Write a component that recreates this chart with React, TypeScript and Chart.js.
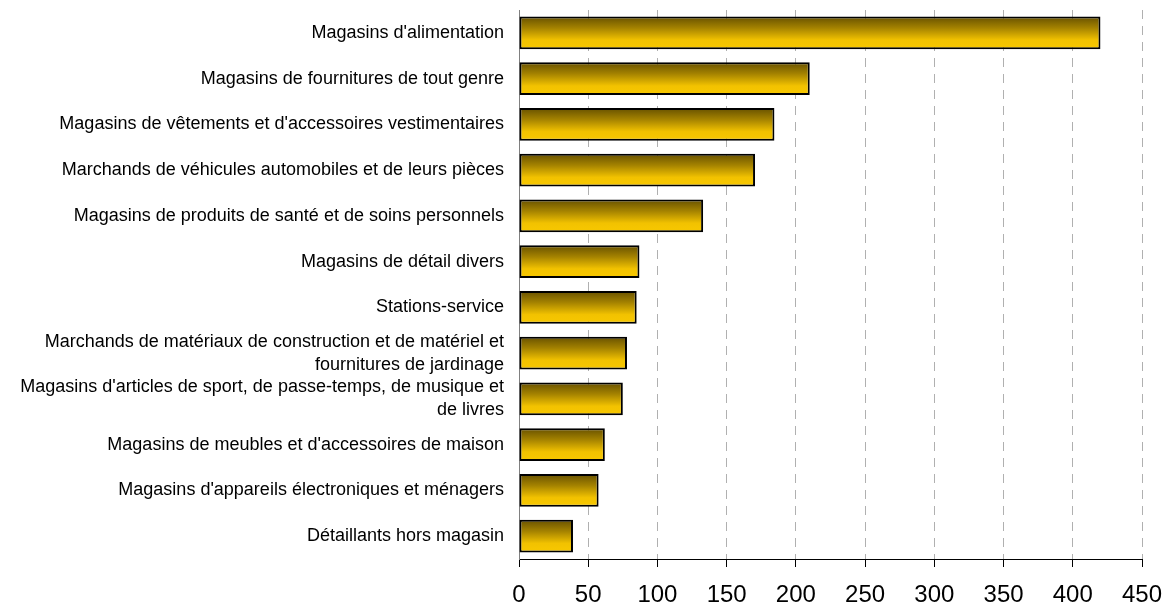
import React, { useEffect, useRef } from "react";
import { Chart, registerables } from "chart.js";

Chart.register(...registerables);

const categories: (string | string[])[] = [
  "Magasins d'alimentation",
  "Magasins de fournitures de tout genre",
  "Magasins de vêtements et d'accessoires vestimentaires",
  "Marchands de véhicules automobiles et de leurs pièces",
  "Magasins de produits de santé et de soins personnels",
  "Magasins de détail divers",
  "Stations-service",
  ["Marchands de matériaux de construction et de matériel et", "fournitures de jardinage"],
  ["Magasins d'articles de sport, de passe-temps, de musique et", "de livres"],
  "Magasins de meubles et d'accessoires de maison",
  "Magasins d'appareils électroniques et ménagers",
  "Détaillants hors magasin",
];

const values: number[] = [420, 210, 184.5, 170.5, 133, 87, 85, 78, 75, 62, 57.5, 39];

const xTicks = { min: 0, max: 450, step: 50 };

export default function App() {
  const canvasRef = useRef<HTMLCanvasElement | null>(null);

  useEffect(() => {
    if (!canvasRef.current) return;
    const chart = new Chart(canvasRef.current, {
      type: "bar",
      data: {
        labels: categories,
        datasets: [
          {
            data: values,
            backgroundColor: (ctx: any) => {
              const c = ctx.chart;
              const ys = c.scales?.y;
              if (!ys || ctx.dataIndex === undefined) return "#e0b000";
              const center = ys.getPixelForValue(ctx.dataIndex);
              const band = ys.height / categories.length;
              const h = band * 0.72;
              const y0 = center - h / 2;
              const y1 = center + h / 2;
              if (!isFinite(y0) || !isFinite(y1) || h <= 0) return "#e0b000";
              const g = c.ctx.createLinearGradient(0, y0, 0, y1);
              g.addColorStop(0, "#665000");
              g.addColorStop(0.35, "#a48200");
              g.addColorStop(0.72, "#f2c200");
              g.addColorStop(1, "#f8c800");
              return g;
            },
            borderColor: "#000000",
            borderWidth: 2,
            borderSkipped: false,
            barPercentage: 0.72,
            categoryPercentage: 1,
          },
        ],
      },
      options: {
        indexAxis: "y",
        animation: false,
        responsive: true,
        maintainAspectRatio: false,
        layout: { padding: { top: 10, left: 0, right: 0, bottom: 0 } },
        plugins: {
          legend: { display: false },
          tooltip: { enabled: false },
        },
        scales: {
          x: {
            min: xTicks.min,
            max: xTicks.max,
            afterFit: (scale: any) => {
              scale.height = 46;
              scale.paddingLeft = 0;
              scale.paddingRight = 22;
            },
            ticks: {
              stepSize: xTicks.step,
              color: "#000",
              font: { family: "'Liberation Sans', Arial, sans-serif", size: 24, lineHeight: 1 },
              padding: 16,
              maxRotation: 0,
            },
            grid: {
              color: "#b0b0b0",
              lineWidth: 1,
              tickColor: "#000",
              tickLength: 8,
              tickBorderDash: [],
            },
            border: { display: true, color: "#000", width: 1, dash: [9, 7] },
          },
          y: {
            afterFit: (scale: any) => {
              scale.width = 519;
              scale.paddingTop = 0;
              scale.paddingBottom = 0;
            },
            ticks: {
              color: "#000",
              font: { family: "'Liberation Sans', Arial, sans-serif", size: 18, lineHeight: 1.28 },
              padding: 15,
              autoSkip: false,
            },
            grid: { display: false, drawTicks: false },
            border: { display: true, color: "#808080", width: 1 },
          },
        },
      },
    });
    chart.update();
    return () => chart.destroy();
  }, []);

  return (
    <div style={{ position: "fixed", left: 0, top: 0, width: 1164, height: 605, background: "#fff" }}>
      <canvas ref={canvasRef} />
    </div>
  );
}
